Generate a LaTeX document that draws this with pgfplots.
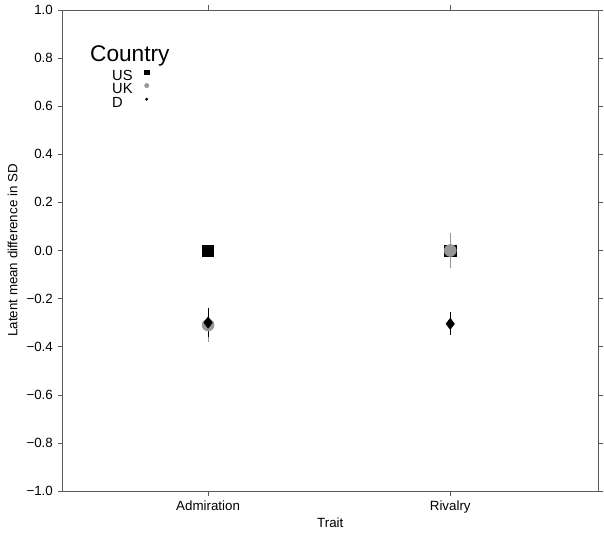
\documentclass[border=0pt]{standalone}
\usepackage{fontspec}
\setmainfont{Liberation Sans}
\usepackage{pgfplots}
\pgfplotsset{compat=1.18}
\definecolor{ukgrey}{RGB}{150,150,150}
\definecolor{axgrey}{RGB}{90,90,90}
\begin{document}
\begin{tikzpicture}
\begin{axis}[
  scale only axis,
  width=401.6pt, height=360.75pt,
  xmin=0.399, xmax=2.61, ymin=-1, ymax=1,
  xtick={1,2}, xticklabels={Admiration,Rivalry},
  ytick={-1,-0.8,-0.6,-0.4,-0.2,0,0.2,0.4,0.6,0.8,1},
  yticklabels={−1.0,−0.8,−0.6,−0.4,−0.2,0.0,0.2,0.4,0.6,0.8,1.0},
  tick align=outside,
  major tick length=3.75pt,
  axis line style={axgrey},
  every tick/.style={axgrey},
  ticklabel style={font=\fontsize{10}{12}\selectfont},
  xlabel={Trait}, ylabel={Latent mean difference in SD},
  label style={font=\fontsize{11.5}{13}\selectfont},
  every axis y label/.style={at={(axis description cs:-0.093,0.5)}, rotate=90, anchor=center},
  every axis x label/.style={at={(axis description cs:0.5,-0.066)}, anchor=center},
  legend style={draw=none, fill=none, at={(axis cs:0.603,0.755)}, anchor=north west,
    font=\fontsize{11}{10}\selectfont, row sep=0pt, column sep=9pt, inner sep=0pt,
    nodes={inner sep=0pt, text height=8.4pt, text depth=1.8pt}},
  legend plot pos=right,
  legend cell align=left,
]
\addlegendimage{legend image code/.code={\draw[black] plot[mark=square*, mark size=1.6pt] coordinates {(0.3cm,0.3em)};}}
\addlegendentry{US}
\addlegendimage{legend image code/.code={\draw[ukgrey] plot[mark=*, mark size=1.6pt] coordinates {(0.3cm,0.3em)};}}
\addlegendentry{UK}
\addlegendimage{legend image code/.code={\draw[black] plot[mark=*, mark size=0.9pt] coordinates {(0.3cm,0.3em)};}}
\addlegendentry{D}
% US
\addplot[only marks, mark=square*, mark size=4.2pt, black, forget plot]
  coordinates {(1,0) (2,0)};
% UK
\addplot[only marks, mark=*, mark size=4.5pt, ukgrey, forget plot,
  error bars/.cd, y dir=both, y explicit, error mark=none,
  error bar style={ukgrey, line width=0.8pt}]
  coordinates {(1,-0.31) +- (0,0.07) (2,0.0) +- (0,0.072)};
% D
\addplot[only marks, mark=diamond*, mark size=4.2pt, black, forget plot,
  error bars/.cd, y dir=both, y explicit, error mark=none,
  error bar style={black, line width=0.8pt}]
  coordinates {(1,-0.30) +- (0,0.06) (2,-0.305) +- (0,0.048)};
\node[anchor=base west, inner sep=0pt, font=\fontsize{17}{17}\selectfont] at (axis cs:0.512,0.784) {Country};
\end{axis}
\pgfresetboundingbox
\path ([shift={(-46.9pt,-34.5pt)}]current axis.south west) rectangle ([shift={(4.5pt,7.5pt)}]current axis.north east);
\end{tikzpicture}
\end{document}
